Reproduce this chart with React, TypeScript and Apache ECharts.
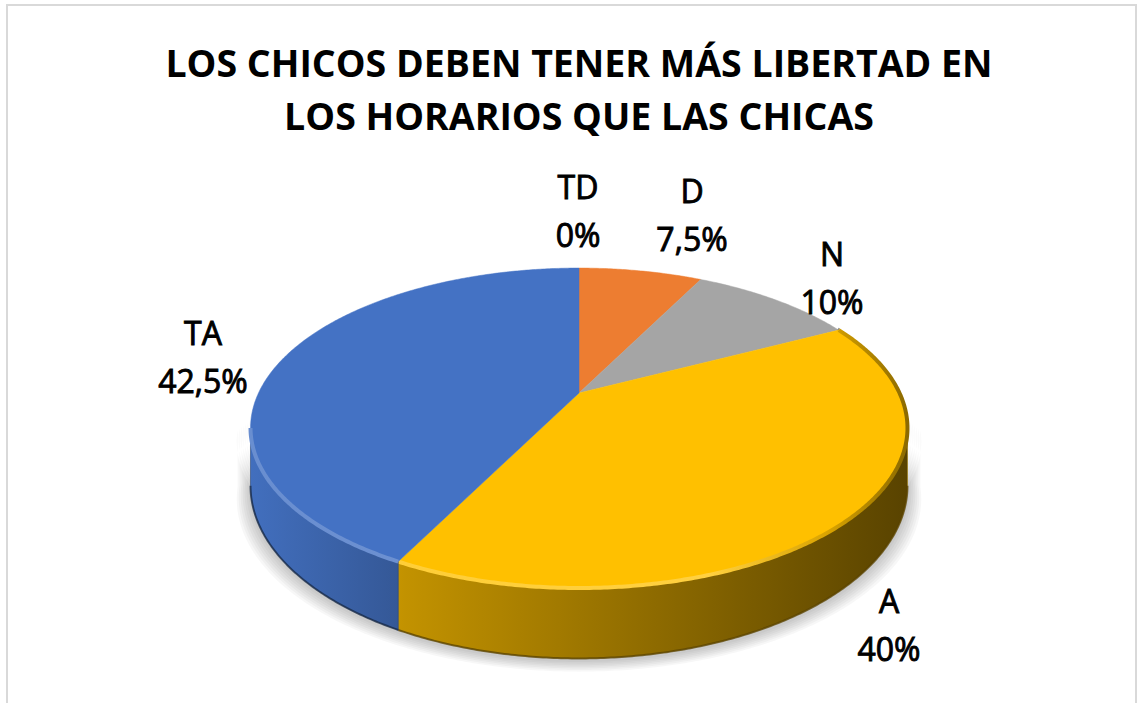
import React, { useEffect, useRef } from "react";
import * as echarts from "echarts";

// ---- data ----
const categories = ["TD", "D", "N", "A", "TA"];
const values = [0, 7.5, 10, 40, 42.5];
const sliceColors = ["#4472C4", "#ED7D31", "#A5A5A5", "#FFC000", "#4472C4"];
const titleLines = ["LOS CHICOS DEBEN TENER MÁS LIBERTAD EN", "LOS HORARIOS QUE LAS CHICAS"];

// ---- layout (perspective pie geometry) ----
const CX = 579;
const CY = 393;
const RA = 320.5;
const RB = 152.3;
const PE = 0.219;
const DEPTH = 55;
const DEG = Math.PI / 180;
const SIDE_FROM = Math.acos(-PE);
const SIDE_TO = 2 * Math.PI - SIDE_FROM;
const X_LEFT = 250;
const X_RIGHT = 907;
// label block centres (layout)
const LABEL_POS: number[][] = [
  [578, 210],
  [692, 214],
  [832, 277],
  [889, 624],
  [203, 356],
];
const FONT = "'Open Sans', 'Noto Sans', 'DejaVu Sans', sans-serif";

function proj(t: number) {
  const u = Math.sin(t);
  const v = -Math.cos(t);
  const w = 1 - PE * v;
  return { x: CX + (RA * u) / w, y: CY + (RB * v) / w, d: DEPTH / w };
}

function arcPts(a0: number, a1: number, drop = false) {
  const n = Math.max(2, Math.ceil((a1 - a0) / (0.5 * DEG)));
  const pts: number[][] = [];
  for (let i = 0; i <= n; i++) {
    const p = proj(a0 + ((a1 - a0) * i) / n);
    pts.push([p.x, drop ? p.y + p.d : p.y]);
  }
  return pts;
}

function sidePts(a0: number, a1: number) {
  const top = arcPts(a0, a1);
  const bottom = arcPts(a0, a1, true).reverse();
  return top.concat(bottom);
}

function shade(hex: string, f: number) {
  const n = parseInt(hex.slice(1), 16);
  let r = (n >> 16) & 255;
  let g = (n >> 8) & 255;
  let b = n & 255;
  if (f <= 1) {
    r *= f;
    g *= f;
    b *= f;
  } else {
    const t = f - 1;
    r += (255 - r) * t;
    g += (255 - g) * t;
    b += (255 - b) * t;
  }
  return `rgb(${Math.round(r)},${Math.round(g)},${Math.round(b)})`;
}

const total = values.reduce((a, b) => a + b, 0);
const starts: number[] = [];
values.reduce((acc, v, i) => {
  starts[i] = acc;
  return acc + v;
}, 0);
const sliceRows = values.map((v, i) => [i, v, starts[i]]);
const fmtPct = (v: number) => String(v).replace(".", ",") + "%";

export default function App() {
  const ref = useRef<HTMLDivElement>(null);

  useEffect(() => {
    document.body.style.margin = "0";
    if (!ref.current) return;
    const chart = echarts.init(ref.current, undefined, { renderer: "svg" });

    const renderSlice = (params: any, api: any) => {
      const i = api.value(0) as number;
      const v = api.value(1) as number;
      const s = api.value(2) as number;
      const color = sliceColors[i];
      const children: any[] = [];
      const a0 = (s / total) * 2 * Math.PI;
      const a1 = ((s + v) / total) * 2 * Math.PI;
      if (v > 0) {
        const sa = Math.max(a0, SIDE_FROM);
        const sb = Math.min(a1, SIDE_TO);
        if (sb > sa) {
          children.push({
            type: "polygon",
            shape: { points: sidePts(sa, sb) },
            style: {
              fill: new echarts.graphic.LinearGradient(
                X_LEFT, 0, X_RIGHT, 0,
                [
                  { offset: 0, color: shade(color, 0.97) },
                  { offset: 0.236, color: shade(color, 0.76) },
                  { offset: 1, color: shade(color, 0.35) },
                ],
                true
              ),
              stroke: shade(color, 0.6),
              lineWidth: 0.6,
            },
          });
          children.push({
            type: "polyline",
            shape: { points: arcPts(sa, sb, true) },
            style: { stroke: shade(color, 0.33), lineWidth: 2, fill: null, opacity: 0.7 },
          });
        }
        const topPts = [[CX, CY]].concat(arcPts(a0, a1));
        children.push({
          type: "polygon",
          shape: { points: topPts },
          style: { fill: color, stroke: color, lineWidth: 0.5 },
        });
        const ha = Math.max(a0, SIDE_FROM - 40 * DEG);
        const hb = Math.min(a1, SIDE_TO);
        if (hb > ha) {
          children.push({
            type: "polyline",
            shape: { points: arcPts(ha, hb) },
            style: {
              fill: null,
              lineWidth: 4,
              stroke: new echarts.graphic.LinearGradient(
                X_LEFT, 0, X_RIGHT, 0,
                [
                  { offset: 0, color: shade(color, 1.2) },
                  { offset: 0.7, color: shade(color, 1.25) },
                  { offset: 0.88, color: shade(color, 0.85) },
                  { offset: 1, color: shade(color, 0.55) },
                ],
                true
              ),
            },
          });
        }
      }
      const lp = LABEL_POS[i];
      children.push({
        type: "text",
        x: lp[0],
        y: lp[1],
        style: {
          text: categories[i] + "\n" + fmtPct(values[i]),
          align: "center",
          verticalAlign: "middle",
          fontSize: 32,
          lineHeight: 48,
          fontFamily: FONT,
          fill: "#000000",
          stroke: "#000000",
          lineWidth: 0.9,
        },
      });
      return { type: "group", children };
    };

    // soft shadow below the pie: stacked translucent layers
    const renderShadow = () => {
      const base = sidePts(SIDE_FROM - 4 * DEG, SIDE_TO + 4 * DEG);
      const layers: any[] = [];
      for (let k = 7; k >= 1; k--) {
        const sx = 1 + k * 0.006;
        layers.push({
          type: "polygon",
          shape: {
            points: base.map((p) => [CX + (p[0] - CX) * sx, p[1] + 2 + k * 1.6]),
          },
          style: { fill: "rgba(0,0,0,0.03)" },
        });
      }
      return { type: "group", children: layers };
    };

    chart.setOption({
      animation: false,
      backgroundColor: "#ffffff",
      graphic: [
        {
          type: "rect",
          shape: { x: 7, y: 5, width: 1129, height: 720 },
          style: { fill: null, stroke: "#d9d9d9", lineWidth: 2 },
          silent: true,
        },
        ...titleLines.map((t, k) => ({
          type: "text",
          x: 579,
          y: 62 + k * 53,
          style: {
            text: t,
            textAlign: "center",
            textVerticalAlign: "middle",
            fontSize: 37.5,
            fontWeight: "bold",
            fontFamily: FONT,
            fill: "#000000",
          },
        })),
      ],
      series: [
        {
          type: "custom",
          coordinateSystem: "none",
          renderItem: renderShadow,
          data: [[0]],
          silent: true,
        },
        {
          type: "custom",
          coordinateSystem: "none",
          renderItem: renderSlice,
          data: sliceRows,
          silent: true,
        },
      ],
    });

    return () => chart.dispose();
  }, []);

  return <div ref={ref} style={{ width: 1139, height: 703 }} />;
}
